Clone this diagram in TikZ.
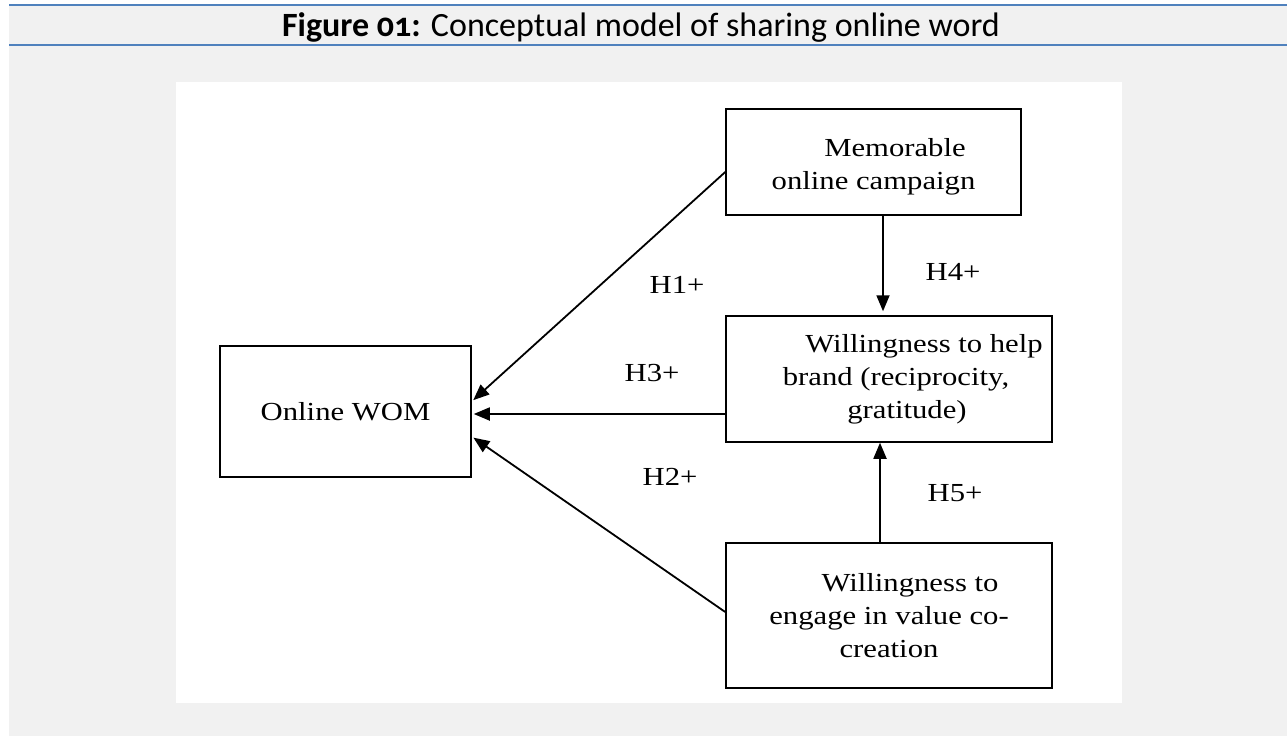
\documentclass[tikz,border=0pt]{standalone}
\usepackage{fontspec}
\setmainfont{Liberation Serif}
\newfontfamily\diagfont[FakeStretch=1.18]{Liberation Serif}
\newfontfamily\titlefont[Numbers=OldStyle]{Carlito}
\usetikzlibrary{arrows.meta}
\definecolor{pagegray}{HTML}{F1F1F1}
\definecolor{ruleblue}{HTML}{4F81BD}

\begin{document}
\begin{tikzpicture}[x=1pt,y=-1pt,line join=miter,
  box/.style={draw,line width=1.5pt,inner sep=0pt,align=center,
    font=\diagfont\fontsize{26}{33}\selectfont},
  hyp/.style={font=\diagfont\fontsize{26}{30}\selectfont,inner sep=0pt},
  link/.style={line width=1.8pt,-{Triangle[length=16pt,width=13pt]}}]

\useasboundingbox (0,0) rectangle (1287,736);

%---------------------------
% fundo e cabeçalho
%---------------------------
\fill[pagegray] (9,5) rectangle (1287,736);
\draw[ruleblue,line width=1.5pt] (9,5) -- (1287,5);
\draw[ruleblue,line width=1.5pt] (9,45) -- (1287,45);
\node (title) [anchor=base,inner sep=0pt] at (641,36)
  {\titlefont\fontsize{34}{40}\selectfont\textbf{Figure 01:} Conceptual model of sharing online word};
\fill[white] (176,82) rectangle (1122,703);

%---------------------------
% caixas
%---------------------------
\node[box,minimum width=295pt,minimum height=106pt] (mem) at (873.5,162)
  {\rule{0pt}{28pt}\hspace*{43pt}Memorable\\online campaign};
\node[box,minimum width=326pt,minimum height=126pt] (help) at (889,379)
  {\hspace*{70pt}Willingness to help\\\hspace*{14pt}brand (reciprocity,\\\hspace*{36pt}gratitude)};
\node[box,minimum width=251pt,minimum height=131pt] (wom) at (345.5,411.5)
  {Online WOM};
\node[box,minimum width=326pt,minimum height=145pt] (eng) at (889,615.5)
  {\hspace*{42pt}Willingness to\\engage in value co-\\creation};

% pontos de saída das setas verticais
\coordinate (h4src) at ([xshift=9.5pt]mem.south);
\coordinate (h5src) at ([xshift=-9pt]eng.north);

%---------------------------
% hipóteses
%---------------------------
\draw[link,shorten >=2pt] ([yshift=-10pt]mem.west) -- ([yshift=10pt]wom.east);
\draw[link,shorten >=2pt] ([yshift=-35pt]help.west) -- ([yshift=-2.5pt]wom.east);
\draw[link,shorten >=2pt] ([yshift=3.5pt]eng.west) -- ([yshift=-25pt]wom.east);
\draw[link,shorten >=4pt] (h4src) -- (h4src |- help.north);
\draw[link] (h5src) -- (h5src |- help.south);

\node[hyp] (h1) at (677,285) {H1+};
\node[hyp] (h3) at (652,373) {H3+};
\node[hyp] (h2) at (670,477) {H2+};
\node[hyp] (h4) at (953,272) {H4+};
\node[hyp] (h5) at (955,493) {H5+};

\end{tikzpicture}
\end{document}
